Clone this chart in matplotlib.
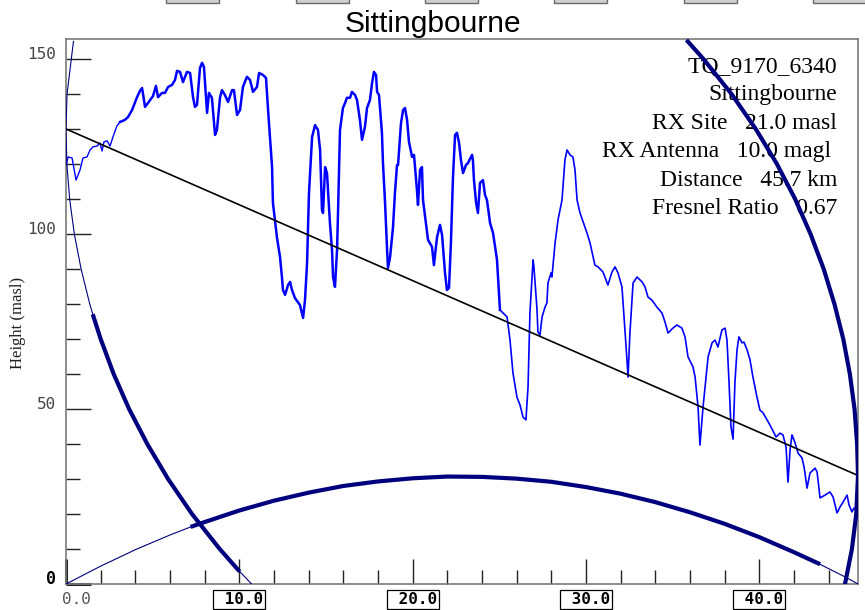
import matplotlib
matplotlib.use('Agg')
import matplotlib.pyplot as plt
from matplotlib.ticker import MultipleLocator
from matplotlib.patches import Rectangle

# terrain profile: distance (km) / height (masl)
dist = [0.00, 0.12, 0.35, 0.58, 0.81, 0.98, 1.21, 1.39, 1.56, 1.79, 1.96, 2.08, 2.19, 2.37, 2.54,
        2.71, 2.94, 3.12, 3.40, 3.58, 3.81, 4.10, 4.27, 4.39, 4.56, 4.73, 5.02, 5.19, 5.31, 5.54,
        5.71, 5.89, 6.12, 6.29, 6.41, 6.58, 6.75, 6.98, 7.16, 7.33, 7.44, 7.56, 7.73, 7.85, 7.96,
        8.14, 8.25, 8.42, 8.60, 8.71, 8.89, 9.00, 9.17, 9.35, 9.58, 9.69, 9.87, 10.04, 10.21, 10.44,
        10.62, 10.79, 11.02, 11.14, 11.37, 11.54, 11.66, 11.89, 11.94, 12.17, 12.35, 12.46, 12.52,
        12.64, 12.81, 12.93, 13.04, 13.21, 13.50, 13.68, 13.79, 13.91, 14.02, 14.20, 14.37, 14.54,
        14.66, 14.77, 14.83, 14.95, 15.06, 15.23, 15.35, 15.41, 15.52, 15.64, 15.70, 15.81, 15.98,
        16.10, 16.21, 16.39, 16.50, 16.68, 16.79, 16.96, 17.08, 17.25, 17.37, 17.54, 17.66, 17.77,
        17.89, 17.95, 18.06, 18.23, 18.29, 18.41, 18.52, 18.58, 18.70, 18.87, 18.98, 19.10, 19.16,
        19.33, 19.45, 19.56, 19.68, 19.79, 19.97, 20.08, 20.25, 20.31, 20.43, 20.54, 20.60, 20.77,
        20.89, 21.12, 21.23, 21.41, 21.58, 21.70, 21.87, 21.98, 22.10, 22.21, 22.33, 22.45, 22.56,
        22.68, 22.79, 22.91, 23.08, 23.20, 23.43, 23.48, 23.54, 23.66, 23.77, 23.89, 24.06, 24.18,
        24.29, 24.47, 24.64, 24.87, 25.04, 25.45, 25.62, 25.79, 26.02, 26.20, 26.37, 26.54, 26.66,
        26.77, 26.95, 27.00, 27.18, 27.23, 27.35, 27.47, 27.64, 27.75, 27.81, 27.99, 28.04, 28.22,
        28.39, 28.62, 28.79, 28.91, 29.08, 29.25, 29.37, 29.49, 29.66, 30.06, 30.24, 30.52, 30.70,
        30.99, 31.27, 31.50, 31.68, 31.85, 32.08, 32.20, 32.37, 32.43, 32.54, 32.72, 32.95, 33.24,
        33.41, 33.58, 33.81, 34.10, 34.39, 34.56, 34.74, 35.02, 35.25, 35.54, 35.72, 35.89, 36.18,
        36.30, 36.47, 36.58, 36.76, 37.05, 37.28, 37.45, 37.62, 37.85, 38.03, 38.14, 38.26, 38.37,
        38.49, 38.60, 38.72, 38.83, 39.01, 39.12, 39.30, 39.47, 39.64, 39.87, 40.04, 40.22, 40.45,
        40.62, 40.80, 40.97, 41.20, 41.37, 41.55, 41.66, 41.78, 41.89, 42.07, 42.24, 42.47, 42.59,
        42.76, 42.93, 43.22, 43.34, 43.51, 43.80, 44.08, 44.26, 44.49, 44.66, 44.84, 45.07, 45.18,
        45.35, 45.47, 45.70]
height = [119.7, 122.0, 121.7, 115.4, 118.3, 121.7, 122.0, 124.0, 124.9, 125.1, 126.0, 123.7, 126.3,
          126.6, 125.1, 127.7, 130.9, 132.0, 132.6, 133.4, 135.4, 139.1, 140.9, 141.7, 136.3, 137.4,
          139.4, 142.3, 139.1, 140.3, 140.3, 142.0, 142.6, 144.0, 146.6, 146.3, 143.4, 146.3, 146.0,
          139.1, 136.3, 136.9, 147.4, 148.9, 147.7, 134.6, 140.3, 138.9, 128.3, 129.7, 139.1, 141.1,
          139.7, 137.7, 141.1, 141.1, 134.0, 135.4, 142.0, 144.9, 144.0, 140.6, 142.0, 146.0, 145.4,
          144.6, 135.4, 119.1, 108.9, 99.1, 93.4, 87.7, 84.0, 82.6, 85.4, 86.3, 84.0, 81.7, 79.7,
          76.0, 81.1, 91.7, 111.7, 127.7, 131.1, 129.7, 124.0, 106.9, 106.0, 119.1, 117.4, 103.1,
          95.4, 87.7, 84.9, 95.4, 106.9, 129.7, 136.0, 137.4, 138.9, 138.9, 140.6, 139.7, 138.3,
          132.6, 126.9, 130.6, 136.0, 138.3, 143.1, 146.3, 145.4, 140.6, 139.7, 128.9, 120.3, 108.9,
          96.3, 90.3, 93.4, 102.0, 111.7, 119.7, 119.7, 131.7, 135.4, 136.0, 132.6, 126.3, 122.0,
          122.6, 112.6, 108.3, 118.3, 119.1, 109.7, 103.1, 98.3, 96.3, 91.1, 99.1, 102.6, 99.7, 88.9,
          84.0, 84.6, 97.4, 116.3, 128.3, 128.9, 126.0, 121.1, 117.4, 119.7, 120.3, 122.6, 121.1,
          115.4, 109.1, 106.0, 114.6, 115.4, 111.1, 109.7, 103.1, 100.3, 92.6, 78.3, 76.3, 69.7,
          60.3, 53.4, 51.1, 47.7, 46.9, 56.3, 77.4, 92.6, 90.6, 78.3, 72.0, 71.1, 76.3, 79.1, 80.3,
          86.0, 88.9, 87.7, 97.4, 104.0, 109.7, 121.1, 124.0, 122.6, 122.0, 118.3, 109.7, 106.0,
          100.3, 97.4, 91.1, 90.6, 89.1, 85.4, 89.1, 90.6, 88.9, 84.9, 76.3, 64.0, 59.1, 71.7, 86.0,
          87.7, 86.3, 84.9, 82.0, 81.1, 79.1, 77.4, 74.9, 71.7, 73.1, 74.0, 73.1, 70.6, 64.9, 62.0,
          59.1, 50.6, 39.7, 50.6, 64.9, 68.9, 69.7, 67.7, 72.6, 73.1, 69.7, 57.4, 44.9, 41.4, 57.7,
          66.9, 70.6, 68.9, 69.1, 66.9, 64.0, 59.1, 53.4, 49.7, 48.9, 46.9, 45.4, 43.7, 42.0, 43.1,
          42.6, 39.1, 29.1, 38.3, 42.6, 40.3, 37.4, 36.0, 33.4, 27.4, 31.7, 33.1, 32.0, 24.6, 25.4,
          26.3, 24.9, 20.3, 22.0, 23.4, 25.4, 22.6, 20.6, 21.7, 21.0]

# line of sight TX -> RX
los_dist = [0.0, 45.7]
los_height = [130.0, 31.0]

# lower arc (earth bulge)
bulge_dist = [0.0, 2.0, 4.0, 6.0, 7.3, 8.0, 10.0, 12.0, 14.0, 16.0, 18.0, 20.0, 22.0, 24.0,
              26.0, 28.0, 30.0, 32.0, 34.0, 36.0, 38.0, 40.0, 42.0, 43.4, 44.0, 45.0, 45.7]
bulge_height = [0.0, 5.1, 9.8, 14.0, 16.5, 17.7, 21.0, 23.8, 26.1, 28.0, 29.3, 30.2, 30.7, 30.6,
                30.1, 29.2, 27.7, 25.8, 23.4, 20.5, 17.2, 13.4, 9.1, 5.9, 4.4, 1.9, 0.0]

# arc through the TX end
tx_arc_dist = [0.43, 0.06, 0.0, 0.05, 0.21, 0.48, 0.87, 1.37, 1.58, 2.00, 2.75, 3.64, 4.69,
               5.89, 7.27, 8.87, 9.94, 10.71]
tx_arc_height = [155.0, 140.0, 130.0, 120.0, 110.0, 100.0, 90.0, 80.0, 76.5, 70.0, 60.0, 50.0,
                 40.0, 30.0, 20.0, 10.0, 4.0, 0.0]

# arc through the RX end
rx_arc_dist = [35.88, 36.78, 38.40, 39.80, 41.02, 42.07, 42.96, 43.72, 44.34, 44.85, 45.23,
               45.50, 45.65, 45.70, 45.60, 45.35, 44.95]
rx_arc_height = [155.0, 150.0, 140.0, 130.0, 120.0, 110.0, 100.0, 90.0, 80.0, 70.0, 60.0, 50.0,
                 40.0, 31.0, 20.0, 10.0, 0.0]

x_major = [0, 10, 20, 30, 40]
x_labels = ['0.0', '10.0', '20.0', '30.0', '40.0']
y_major = [0, 50, 100, 150]
y_labels = ['0', '50', '100', '150']

info_lines = ['TQ_9170_6340', 'Sittingbourne', 'RX Site   21.0 masl',
              'RX Antenna   10.0 magl ', 'Distance   45.7 km', 'Fresnel Ratio   0.67']

W, H = 865, 610
fig = plt.figure(figsize=(W / 100, H / 100), dpi=100)
ax = fig.add_axes([66 / W, 26 / H, 792 / W, 545 / H])

navy = '#00007f'
blue = '#0000ff'


def part(xs, ys, lo, hi):
    # pick the points lo..hi (inclusive) of a series
    return xs[lo:hi + 1], ys[lo:hi + 1]


# terrain: drawn heavier in the middle section
i0 = 17
i1 = 168
for lo, hi, lw in [(0, i0, 1.0), (i0, i1, 1.8), (i1, len(dist) - 1, 1.2)]:
    ax.plot(*part(dist, height, lo, hi), color=blue, lw=lw, zorder=3, solid_joinstyle='round')

ax.plot(los_dist, los_height, color='black', lw=1.2, zorder=3)

# arcs: thin ends, thick middles
ax.plot(*part(bulge_dist, bulge_height, 0, 4), color=navy, lw=0.8, zorder=4)
ax.plot(*part(bulge_dist, bulge_height, 4, 23), color=navy, lw=3.0, zorder=4)
ax.plot(*part(bulge_dist, bulge_height, 23, 26), color=navy, lw=0.8, zorder=4)

ax.plot(*part(tx_arc_dist, tx_arc_height, 0, 8), color=navy, lw=0.8, zorder=4)
ax.plot(*part(tx_arc_dist, tx_arc_height, 8, 16), color=navy, lw=3.0, zorder=4)
ax.plot(*part(tx_arc_dist, tx_arc_height, 16, 17), color=navy, lw=0.8, zorder=4)

ax.plot(rx_arc_dist, rx_arc_height, color=navy, lw=3.0, zorder=4)

ax.set_xlim(0, 45.7)
ax.set_ylim(0, 155.7)

# ticks point inwards, labels are drawn by hand
ax.set_xticks(x_major)
ax.set_yticks(y_major)
ax.xaxis.set_minor_locator(MultipleLocator(2))
ax.yaxis.set_minor_locator(MultipleLocator(10))
ax.tick_params(which='major', direction='in', length=18, width=1.0, color='#222222',
               labelbottom=False, labelleft=False)
ax.tick_params(which='minor', direction='in', length=10, width=1.0, color='#222222')
ax.yaxis.get_major_ticks()[0].tick1line.set_markeredgewidth(2.2)
ax.xaxis.get_major_ticks()[0].tick1line.set_markeredgewidth(2.2)
ax.yaxis.get_major_ticks()[0].tick1line.set_color('black')
ax.xaxis.get_major_ticks()[0].tick1line.set_color('black')

for s in ax.spines.values():
    s.set_color('#7a7a7a')
    s.set_linewidth(1.2)

mono = 'DejaVu Sans Mono'
xt = ax.get_xaxis_transform()
for v, lab in zip(x_major, x_labels):
    if v == 0:
        ax.text(v - 0.23, -0.029, lab, transform=xt, ha='left', va='center', fontsize=11.5,
                family=mono, color='#555555', clip_on=False)
    else:
        ax.text(v, -0.029, ' ' + lab, transform=xt, ha='center', va='center', fontsize=11.5,
                family=mono, weight='bold', color='black', clip_on=False,
                bbox=dict(boxstyle='square,pad=0.12', fc='white', ec='black', lw=0.9))

yt = ax.get_yaxis_transform()
for v, lab in zip(y_major, y_labels):
    if v == 0:
        ax.text(-0.012, v + 1.3, lab, transform=yt, ha='right', va='center', fontsize=12,
                family=mono, weight='bold', color='black', clip_on=False)
    else:
        ax.text(-0.013, v + 1.3, lab, transform=yt, ha='right', va='center', fontsize=11.5,
                family=mono, color='#444444', clip_on=False)

fig.text(18 / W, 1 - 323 / H, 'Height (masl)', rotation=90, ha='center', va='center',
         fontsize=12, family='Liberation Serif', color='#222222')

fig.text(0.5, 1 - 32 / H, 'Sittingbourne', ha='center', va='baseline', fontsize=21.5,
         family='Liberation Sans', color='black')

# info block, under the arcs
for k, line in enumerate(info_lines):
    base = 72 + 28.4 * k
    ax.text((837 - 66) / 792, (584 - base) / 545, line, transform=ax.transAxes, ha='right',
            va='baseline', fontsize=17, family='Liberation Serif', color='black', zorder=2)

# cut-off boxes along the top edge
for x0 in [166, 296, 425, 554, 684, 813]:
    fig.add_artist(Rectangle((x0 / W, 1 - 3 / H), 53 / W, 12 / H, transform=fig.transFigure,
                             fc='#cfcfcf', ec='#6a6a6a', lw=1.0))

fig.savefig('out.png', dpi=100)
